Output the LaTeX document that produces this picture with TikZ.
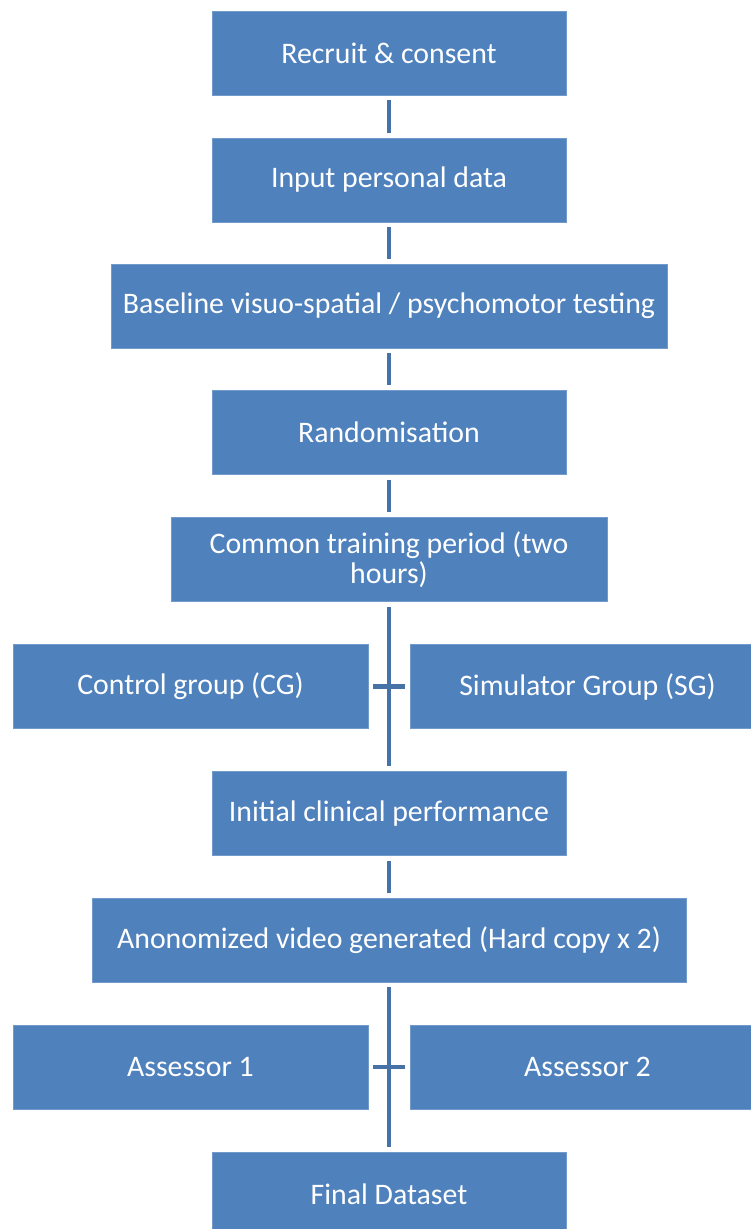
\documentclass[tikz,border=0pt]{standalone}
\usepackage{fontspec}
\setmainfont{Carlito}
\definecolor{boxblue}{RGB}{79,129,189}
\definecolor{linkblue}{RGB}{70,114,168}

\begin{document}
\begin{tikzpicture}[x=1pt, y=-1pt,
    box/.style={fill=boxblue, draw=boxblue!80!white, line width=0.8pt, text=white,
      minimum height=84pt, inner sep=0pt, align=center, font=\fontsize{29.8}{30}\selectfont},
    link/.style={draw=linkblue, line width=4.5pt, shorten <=5pt, shorten >=5pt}]
  \useasboundingbox (0,0) rectangle (751,1229);
  \clip (0,0) rectangle (751,1229);

  % main column
  \foreach \n/\y/\w/\t in {recruit/53/354/{Recruit \& consent},
      input/180/354/{Input personal data},
      baseline/306/556/{Baseline visuo-spatial / psychomotor testing},
      random/432.5/354/{Randomisation},
      common/559.5/436/{Common training period (two\\hours)},
      initial/813.5/354/{Initial clinical performance},
      anon/940/594/{Anonomized video generated (Hard copy x 2)},
      final/1194/354/{Final Dataset}} {
    \node[box, minimum width=\w] (\n) at (389,\y) {\t};
  }

  % side by side
  \node[box, minimum width=355] (control) at (190.5,686.5) {Control group (CG)};
  \node[box, minimum width=355] (simulator) at (587.5,686.5) {Simulator Group (SG)};
  \node[box, minimum width=355] (assessor1) at (190.5,1067) {Assessor 1};
  \node[box, minimum width=355] (assessor2) at (587.5,1067) {Assessor 2};

  \foreach \a/\b in {recruit/input, input/baseline, baseline/random, random/common, initial/anon} {
    \draw[link] (\a) -- (\b);
  }
  \draw[link] (common) -- (initial);
  \draw[link] (control) -- (simulator);
  \draw[link] (anon) -- (final);
  \draw[link] (assessor1) -- (assessor2);
\end{tikzpicture}
\end{document}
